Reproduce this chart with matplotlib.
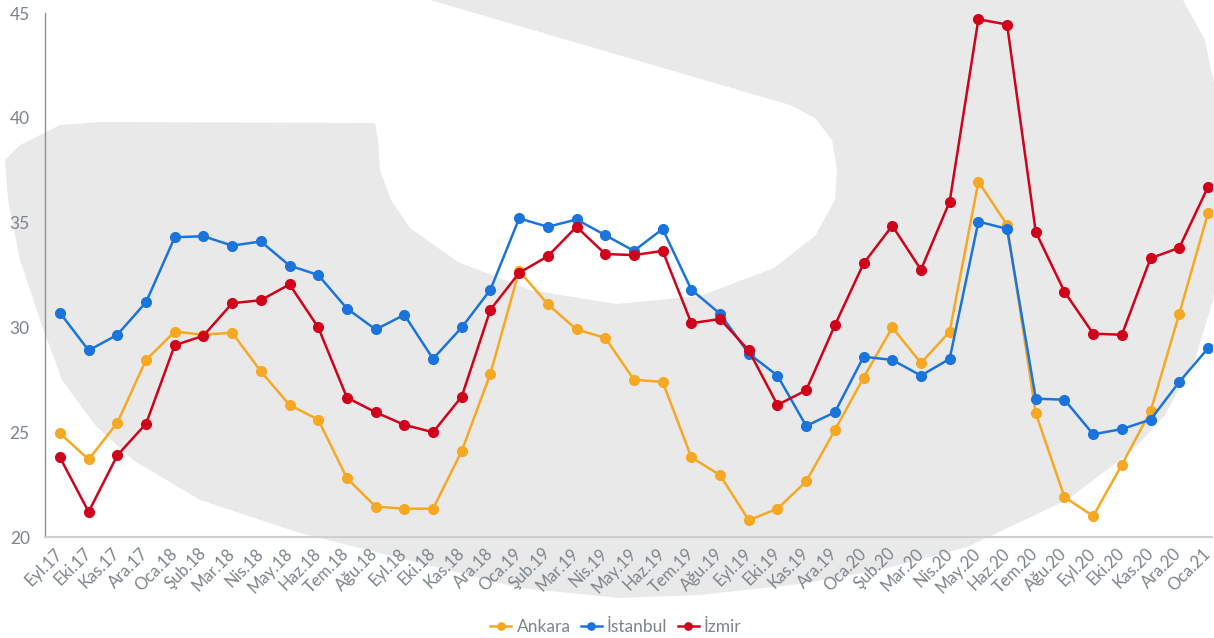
import matplotlib
matplotlib.use("Agg")
from matplotlib import pyplot as plt
from matplotlib.patches import Polygon
import numpy as np

months = ['Eyl.17', 'Eki.17', 'Kas.17', 'Ara.17', 'Oca.18', 'Şub.18', 'Mar.18', 'Nis.18',
          'May.18', 'Haz.18', 'Tem.18', 'Ağu.18', 'Eyl.18', 'Eki.18', 'Kas.18', 'Ara.18',
          'Oca.19', 'Şub.19', 'Mar.19', 'Nis.19', 'May.19', 'Haz.19', 'Tem.19', 'Ağu.19',
          'Eyl.19', 'Eki.19', 'Kas.19', 'Ara.19', 'Oca.20', 'Şub.20', 'Mar.20', 'Nis.20',
          'May.20', 'Haz.20', 'Tem.20', 'Ağu.20', 'Eyl.20', 'Eki.20', 'Kas.20', 'Ara.20',
          'Oca.21']

ankara = [24.95, 23.7, 25.45, 28.45, 29.8, 29.65, 29.75, 27.9, 26.3, 25.6, 22.8, 21.45,
          21.35, 21.35, 24.1, 27.8, 32.7, 31.1, 29.9, 29.5, 27.5, 27.4, 23.8, 22.95,
          20.8, 21.35, 22.65, 25.1, 27.6, 30.0, 28.3, 29.8, 36.95, 34.9, 25.9, 21.9,
          21.0, 23.45, 26.0, 30.65, 35.45]

istanbul = [30.7, 28.9, 29.65, 31.2, 34.3, 34.35, 33.9, 34.1, 32.95, 32.5, 30.9, 29.9,
            30.6, 28.5, 30.0, 31.8, 35.2, 34.8, 35.15, 34.4, 33.65, 34.7, 31.8, 30.65,
            28.75, 27.7, 25.3, 25.95, 28.6, 28.45, 27.7, 28.5, 35.05, 34.7, 26.6, 26.55,
            24.9, 25.15, 25.6, 27.4, 29.0]

izmir = [23.8, 21.2, 23.9, 25.4, 29.15, 29.6, 31.15, 31.3, 32.05, 30.0, 26.65, 25.95,
         25.35, 25.0, 26.7, 30.85, 32.6, 33.4, 34.8, 33.5, 33.45, 33.65, 30.2, 30.4,
         28.9, 26.3, 27.0, 30.1, 33.05, 34.85, 32.75, 36.0, 44.7, 44.45, 34.55, 31.7,
         29.7, 29.65, 33.3, 33.8, 36.7]

series = [('Ankara', ankara, '#f7a823'),
          ('İstanbul', istanbul, '#1a74dc'),
          ('İzmir', izmir, '#d0021b')]

W, H = 1214, 638
grey_txt = '#7c848c'
plt.rcParams['font.family'] = ['Lato', 'DejaVu Sans']

fig = plt.figure(figsize=(W / 100, H / 100), dpi=100)

# background watermark (pixel outline, y from top)
mark = [(430, 0), (1183, 0), (1205, 40), (1214, 83), (1230, 150), (1222, 240),
        (1213, 300), (1195, 360), (1165, 415), (1133, 450), (1067, 500), (967, 547),
        (880, 570), (800, 584), (700, 595), (620, 598), (520, 588), (420, 563),
        (300, 533), (200, 500), (133, 460), (95, 425), (62, 380), (40, 320),
        (20, 260), (8, 200), (5, 160), (20, 145), (60, 125), (100, 122), (375, 123),
        (378, 140), (380, 170), (391, 200), (410, 228), (458, 262), (530, 290),
        (616, 304), (700, 296), (774, 268), (815, 236), (835, 200), (837, 170),
        (832, 140), (815, 118), (790, 105)]
mark_pts = [(x / W, 1 - y / H) for x, y in mark]
fig.patches.append(Polygon(mark_pts, closed=True, transform=fig.transFigure,
                           facecolor='#eae9e9', edgecolor='none', zorder=-5))

ax = fig.add_axes([45 / W, 1 - 537 / H, (1212 - 45) / W, (537 - 13) / H])
ax.patch.set_alpha(0)

x = np.arange(len(months))
for name, vals, col in series:
    ax.plot(x, vals, color=col, lw=1.8, marker='o', ms=7, label=name)

ax.set_xlim(-0.52, len(months) - 1 + 0.14)
ax.set_ylim(20, 45)
ax.set_yticks([20, 25, 30, 35, 40, 45])
ax.set_xticks(x)
ax.set_xticklabels(months, rotation=45, ha='right', va='center',
                   rotation_mode='anchor', fontsize=12, color=grey_txt)
ax.tick_params(axis='x', length=0, pad=10)
ax.tick_params(axis='y', length=0, pad=11, labelsize=12.5, labelcolor=grey_txt)

for s in ['top', 'right']:
    ax.spines[s].set_visible(False)
ax.spines['left'].set_color('#8a9096')
ax.spines['left'].set_linewidth(1.0)
ax.spines['bottom'].set_color('#cfcfcf')
ax.spines['bottom'].set_linewidth(1.5)

leg = fig.legend(loc='center', bbox_to_anchor=(616 / W, 1 - 627 / H), ncol=3,
                 frameon=False, fontsize=12.5, handlelength=1.2, handletextpad=0.3,
                 columnspacing=0.6, markerscale=0.75)
for t in leg.get_texts():
    t.set_color(grey_txt)

fig.savefig('out.png', dpi=100)
